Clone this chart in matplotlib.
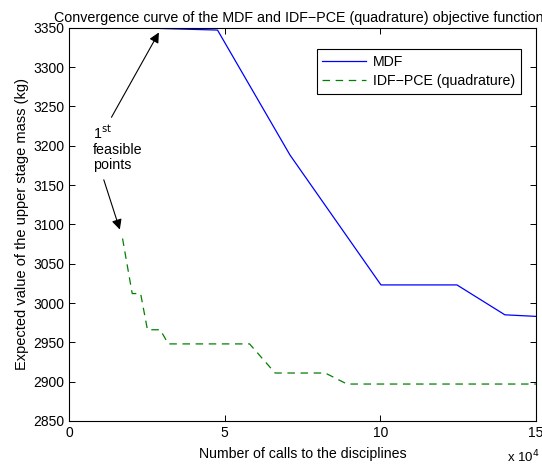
import numpy as np
from matplotlib import pyplot as plt
from matplotlib.ticker import FuncFormatter

# MDF curve (calls, kg)
mdf_calls = [29400, 47700, 71000, 100200, 124600, 140000, 150000]
mdf_mass = [3349, 3347, 3188, 3023, 3023, 2985, 2983]

# IDF-PCE (quadrature) curve
idf_calls = [17200, 20300, 23000, 25200, 29300, 31900, 58000, 66200, 82300, 89300, 150000]
idf_mass = [3082, 3012, 3012, 2966, 2966, 2948, 2948, 2911, 2911, 2897, 2897]

x_ticks = [0, 50000, 100000, 150000]
y_ticks = list(range(2850, 3351, 50))

plt.rcParams['font.family'] = ['Liberation Sans', 'DejaVu Sans']
plt.rcParams['font.size'] = 10

fig = plt.figure(figsize=(5.42, 4.67), dpi=100)
ax = fig.add_axes([69 / 542, 1 - 421 / 467, (536 - 69) / 542, (421 - 27.7) / 467])

ax.plot(mdf_calls, mdf_mass, color='#0000ff', lw=0.9, label='MDF')
ax.plot(idf_calls, idf_mass, color='#008000', lw=0.9, ls=(0, (6, 4.5)),
        label='IDF\u2212PCE (quadrature)')

ax.set_xlim(0, 150000)
ax.set_ylim(2850, 3350)
ax.set_xticks(x_ticks)
ax.set_yticks(y_ticks)
ax.xaxis.set_major_formatter(FuncFormatter(lambda v, p: f'{v / 1e4:g}'))
ax.tick_params(direction='in', top=True, right=True, length=4, width=0.7, labelsize=10)
for s in ax.spines.values():
    s.set_linewidth(0.8)

ax.set_xlabel('Number of calls to the disciplines', fontsize=10.2, labelpad=5)
ax.set_ylabel('Expected value of the upper stage mass (kg)', fontsize=10.5, labelpad=3)
ax.set_title('Convergence curve of the MDF and IDF\u2212PCE (quadrature) objective functions',
             fontsize=10.3, pad=4)
fig.text(540 / 542, 1 - 462 / 467, 'x 10$^4$', fontsize=9.5, va='baseline', ha='right')

leg = ax.legend(loc='upper right', bbox_to_anchor=(0.983, 0.963), fontsize=10.2,
                fancybox=False, framealpha=1, edgecolor='black', handlelength=3.1,
                handletextpad=0.5, borderpad=0.4, labelspacing=0.35)
leg.get_frame().set_linewidth(0.8)

ax.text(7700, 3197, '1$^{\\rm st}$\nfeasible\npoints', fontsize=10.3, va='center',
        ha='left', linespacing=1.1)
arr = dict(arrowstyle='-|>', color='black', lw=0.8, mutation_scale=15)
ax.annotate('', xy=(29300, 3347), xytext=(13200, 3233), arrowprops=arr)
ax.annotate('', xy=(16600, 3090), xytext=(10900, 3160), arrowprops=arr)

fig.savefig('out.png', dpi=100)
